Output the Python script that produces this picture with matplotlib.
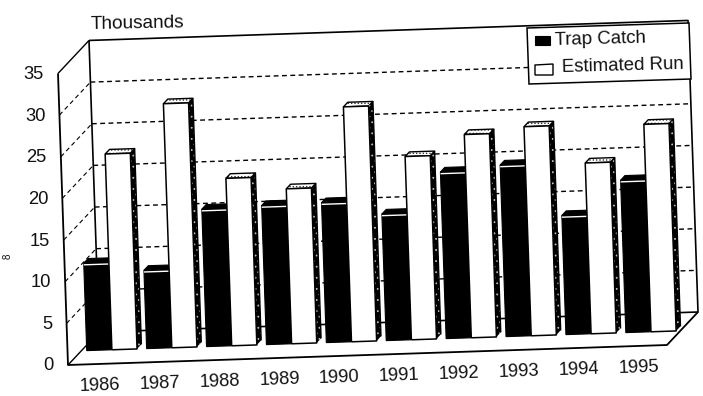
import numpy as np
import matplotlib as mpl
mpl.use('Agg')
import matplotlib.pyplot as plt

mpl.rcParams['font.family'] = ['Liberation Sans', 'DejaVu Sans']
mpl.rcParams['hatch.linewidth'] = 0.6

years = ['1986', '1987', '1988', '1989', '1990', '1991', '1992', '1993', '1994', '1995']
trap_catch = [10.5, 9.4, 16.5, 16.7, 16.8, 15.2, 20.0, 20.6, 14.3, 18.3]
estimated_run = [23.5, 29.3, 20.1, 18.6, 28.2, 22.0, 24.4, 25.1, 20.5, 24.9]
value_ticks = [0, 5, 10, 15, 20, 25, 30, 35]

order = [1]


def proj(u, v, w):
    # category, value, depth -> picture pixels
    x = 68 + 59.9*u - 0.2857*v + 31*w
    y = 365 - 2.0*u - 8.33*v - 33*w
    return x, y


def line(pts, **kw):
    xs, ys = zip(*[proj(*p) for p in pts])
    kw.setdefault('c', 'k')
    kw.setdefault('lw', 1.1)
    order[0] += 1
    ax.plot(xs, ys, solid_capstyle='butt', zorder=order[0], **kw)


def face(pts, **kw):
    xs, ys = zip(*[proj(*p) for p in pts])
    order[0] += 1
    ax.fill(xs, ys, zorder=order[0], **kw)


fig = plt.figure(figsize=(7.03, 3.96), dpi=100)
ax = fig.add_axes([0, 0, 1, 1])
ax.set_xlim(0, 703)
ax.set_ylim(396, 0)
ax.axis('off')

# walls and floor
top = 35
line([(0, top, 1), (10, top, 1), (10, 0, 1), (0, 0, 1), (0, top, 1)], lw=1.2)
line([(0, top, 0), (0, 0, 0), (10, 0, 0), (10, 0, 1)], lw=1.3)
line([(0, top, 0), (0, top, 1)], lw=1)
line([(0, 0, 0), (0, 0, 1)], lw=1)

for v in value_ticks[1:-1]:
    line([(0, v, 0), (0, v, 1)], lw=0.8, ls=(0, (4, 3)))
    line([(0, v, 1), (10, v, 1)], lw=1.0, ls=(0, (3.5, 2.5)))
for v in value_ticks:
    x, y = proj(0, v, 0)
    ax.text(x - 14, y + 1, str(v), ha='right', va='center', fontsize=13.2, color='#111')

# bars, left to right
off, bw, w0, w1 = 0.09, 0.42, 0.43, 0.57
for i in range(len(years)):
    u0, u1, u2 = i + off, i + off + bw, i + off + 2*bw
    tc, er = trap_catch[i], estimated_run[i]

    face([(u0, tc, w0), (u1, tc, w0), (u1, tc, w1), (u0, tc, w1)], fc='k', ec='k', lw=0.8)
    face([(u0, 0, w0), (u1, 0, w0), (u1, tc, w0), (u0, tc, w0)], fc='k', ec='k', lw=0.8)
    line([(u0, tc - 0.2, w0), (u1, tc - 0.2, w0)], c='w', lw=1)

    face([(u1, er, w0), (u2, er, w0), (u2, er, w1), (u1, er, w1)],
         fc='w', ec='#333333', hatch='.....', lw=0)
    line([(u1, er, w0), (u1, er, w1), (u2, er, w1), (u2, er, w0), (u1, er, w0)], lw=1)
    face([(u2, 0, w0), (u2, 0, w1), (u2, er, w1), (u2, er, w0)],
         fc='k', ec='#bbbbbb', hatch='...', lw=0)
    line([(u2, 0, w1), (u2, er, w1)], lw=1)
    face([(u1, 0, w0), (u2, 0, w0), (u2, er, w0), (u1, er, w0)], fc='w', ec='none')
    line([(u1, 0, w0), (u1, er, w0), (u2, er, w0), (u2, 0, w0), (u1, 0, w0)], lw=1.1)

    x, y = proj(i + 0.53, 0, 0)
    ax.text(x, y + 22, years[i], ha='center', va='center', rotation=2,
            rotation_mode='anchor', fontsize=13.2, color='#111')

ax.text(90, 24, 'Thousands', ha='left', va='center', rotation=1, fontsize=13.7, color='#111')
ax.text(8, 256, '8', ha='center', va='center', rotation=90, fontsize=7, color='#111')

# legend box, tilted with the scan
z = order[0] + 1
ax.fill([527, 689, 691, 529], [28, 23, 79, 84], fc='w', ec='k', lw=1.1, zorder=z)
ax.fill([535, 550, 550, 535], [36, 36, 45, 45], fc='k', ec='k', lw=0.8, zorder=z + 1)
ax.fill([535, 553, 553, 535], [65, 64, 75, 75], fc='w', ec='k', lw=1, zorder=z + 1)
ax.text(555, 39, 'Trap Catch', ha='left', va='center', rotation=1.5, fontsize=13.4,
        color='#111', zorder=z + 1)
ax.text(562, 66, 'Estimated Run', ha='left', va='center', rotation=1.5, fontsize=13.4,
        color='#111', zorder=z + 1)

plt.savefig('out.png', dpi=100)
plt.close()
